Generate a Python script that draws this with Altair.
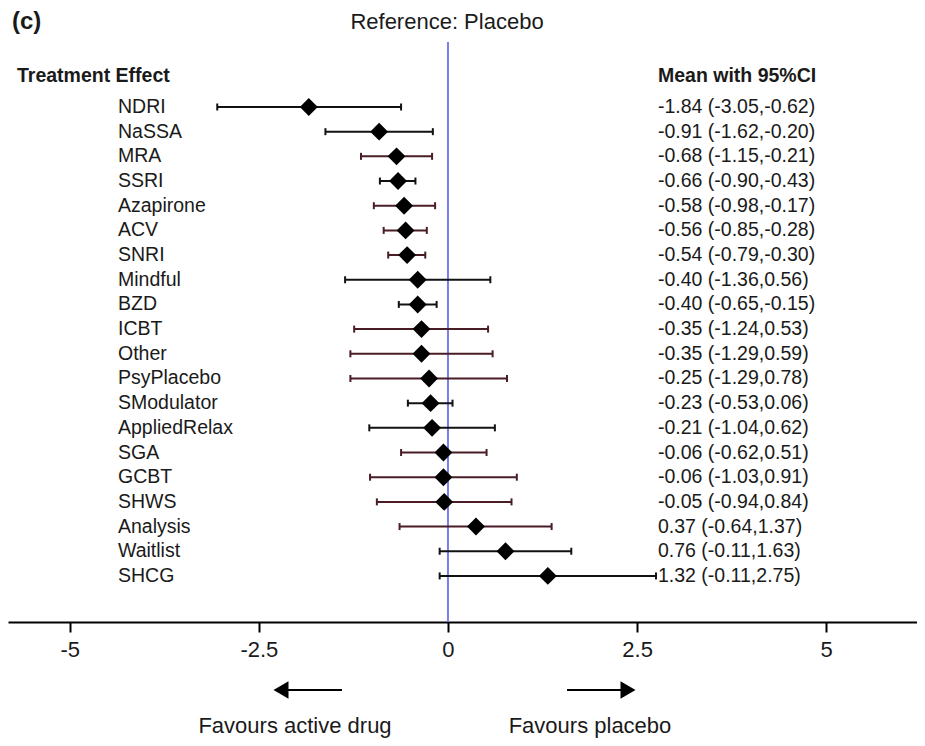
import altair as alt
import pandas as pd

treatments = ["NDRI", "NaSSA", "MRA", "SSRI", "Azapirone", "ACV", "SNRI", "Mindful", "BZD",
              "ICBT", "Other", "PsyPlacebo", "SModulator", "AppliedRelax", "SGA", "GCBT",
              "SHWS", "Analysis", "Waitlist", "SHCG"]
means = [-1.84, -0.91, -0.68, -0.66, -0.58, -0.56, -0.54, -0.40, -0.40, -0.35, -0.35, -0.25,
         -0.23, -0.21, -0.06, -0.06, -0.05, 0.37, 0.76, 1.32]
lower = [-3.05, -1.62, -1.15, -0.90, -0.98, -0.85, -0.79, -1.36, -0.65, -1.24, -1.29, -1.29,
         -0.53, -1.04, -0.62, -1.03, -0.94, -0.64, -0.11, -0.11]
upper = [-0.62, -0.20, -0.21, -0.43, -0.17, -0.28, -0.30, 0.56, -0.15, 0.53, 0.59, 0.78,
         0.06, 0.62, 0.51, 0.91, 0.84, 1.37, 1.63, 2.75]
line_tone = ["dark", "dark", "maroon", "dark", "maroon", "maroon", "maroon", "dark", "dark",
             "maroon", "maroon", "maroon", "dark", "dark", "maroon", "maroon", "maroon",
             "maroon", "dark", "dark"]
x_ticks = [-5, -2.5, 0, 2.5, 5]

df = pd.DataFrame({
    "row": list(range(len(treatments))),
    "treatment": treatments,
    "mean": means,
    "lo": lower,
    "hi": upper,
    "tone": line_tone,
})
df["label"] = [f"{m:.2f} ({l:.2f},{u:.2f})" for m, l, u in zip(means, lower, upper)]

FONT = "Liberation Sans, Arial, sans-serif"
TXT = "#1a1a1a"

xscale = alt.Scale(domain=[-5.816, 6.2], nice=False, zero=False)
yscale = alt.Scale(domain=[-4.011, 20.867], nice=False, zero=False, reverse=True)

base = alt.Chart(df)

ref_line = alt.Chart(pd.DataFrame({"ref": [0]})).mark_rule(
    color="#7b7cf2", strokeWidth=2
).encode(
    x=alt.X("ref:Q", scale=xscale,
            axis=alt.Axis(values=x_ticks, title=None, grid=False, domainColor="black",
                          domainWidth=2, tickColor="black", tickWidth=2, tickSize=10,
                          labelFont=FONT, labelFontSize=22, labelColor=TXT,
                          labelPadding=7, labelExpr="datum.value + ''")),
    y=alt.value(34), y2=alt.value(614),
)

tone_color = alt.Color("tone:N", scale=alt.Scale(domain=["dark", "maroon"],
                                                 range=["#121212", "#4a1c26"]), legend=None)

ci = base.mark_rule(strokeWidth=2).encode(
    x=alt.X("lo:Q", scale=xscale, title=None),
    x2="hi:Q",
    y=alt.Y("row:Q", scale=yscale, axis=None),
    color=tone_color,
)
cap_lo = base.mark_tick(orient="vertical", size=7, thickness=2, opacity=1).encode(
    x=alt.X("lo:Q", scale=xscale, title=None),
    y=alt.Y("row:Q", scale=yscale, axis=None),
    color=tone_color,
)
cap_hi = base.mark_tick(orient="vertical", size=7, thickness=2, opacity=1).encode(
    x=alt.X("hi:Q", scale=xscale, title=None),
    y=alt.Y("row:Q", scale=yscale, axis=None),
    color=tone_color,
)
diamonds = base.mark_point(shape="diamond", filled=True, size=320, color="black",
                           opacity=1).encode(
    x=alt.X("mean:Q", scale=xscale, title=None),
    y=alt.Y("row:Q", scale=yscale, axis=None),
)
names = base.mark_text(align="left", baseline="middle", font=FONT, fontSize=19.5,
                       color=TXT).encode(
    x=alt.value(110),
    y=alt.Y("row:Q", scale=yscale, axis=None),
    text="treatment:N",
)
values = base.mark_text(align="left", baseline="middle", font=FONT, fontSize=19.5,
                        color=TXT).encode(
    x=alt.value(650),
    y=alt.Y("row:Q", scale=yscale, axis=None),
    text="label:N",
)

panel = alt.Chart(pd.DataFrame({"t": ["(c)"]})).mark_text(
    align="left", baseline="middle", font=FONT, fontSize=24, fontWeight="bold", color=TXT
).encode(x=alt.value(4), y=alt.value(14), text="t:N")
reftitle = alt.Chart(pd.DataFrame({"t": ["Reference: Placebo"]})).mark_text(
    align="center", baseline="middle", font=FONT, fontSize=22, color=TXT
).encode(x=alt.value(439), y=alt.value(14), text="t:N")
head_l = alt.Chart(pd.DataFrame({"t": ["Treatment Effect"]})).mark_text(
    align="left", baseline="middle", font=FONT, fontSize=19.5, fontWeight="bold", color=TXT
).encode(x=alt.value(9), y=alt.value(68), text="t:N")
head_r = alt.Chart(pd.DataFrame({"t": ["Mean with 95%CI"]})).mark_text(
    align="left", baseline="middle", font=FONT, fontSize=19.5, fontWeight="bold", color=TXT
).encode(x=alt.value(650), y=alt.value(68), text="t:N")

one = pd.DataFrame({"k": [0]})
shaft_l = alt.Chart(one).mark_rule(color="black", strokeWidth=2).encode(
    x=alt.value(280), x2=alt.value(334), y=alt.value(682))
head_arrow_l = alt.Chart(one).mark_point(shape="triangle-left", filled=True, size=300,
                                         color="black", opacity=1).encode(
    x=alt.value(273), y=alt.value(682))
shaft_r = alt.Chart(one).mark_rule(color="black", strokeWidth=2).encode(
    x=alt.value(559), x2=alt.value(613), y=alt.value(682))
head_arrow_r = alt.Chart(one).mark_point(shape="triangle-right", filled=True, size=300,
                                         color="black", opacity=1).encode(
    x=alt.value(620), y=alt.value(682))
fav_l = alt.Chart(pd.DataFrame({"t": ["Favours active drug"]})).mark_text(
    align="center", baseline="alphabetic", font=FONT, fontSize=22, color=TXT
).encode(x=alt.value(287), y=alt.value(725), text="t:N")
fav_r = alt.Chart(pd.DataFrame({"t": ["Favours placebo"]})).mark_text(
    align="center", baseline="alphabetic", font=FONT, fontSize=22, color=TXT
).encode(x=alt.value(582), y=alt.value(725), text="t:N")

chart = alt.layer(
    ref_line, ci, cap_lo, cap_hi, diamonds, names, values,
    panel, reftitle, head_l, head_r,
    shaft_l, head_arrow_l, shaft_r, head_arrow_r, fav_l, fav_r,
).properties(
    width=909, height=614,
    autosize=alt.AutoSizeParams(type="none"),
    padding={"left": 0, "right": 0, "top": 0, "bottom": 116},
).configure(
    background="white",
    view=alt.ViewConfig(stroke="transparent", strokeWidth=0),
)

chart.save("out.html", embed_options={"renderer": "svg", "actions": False})
